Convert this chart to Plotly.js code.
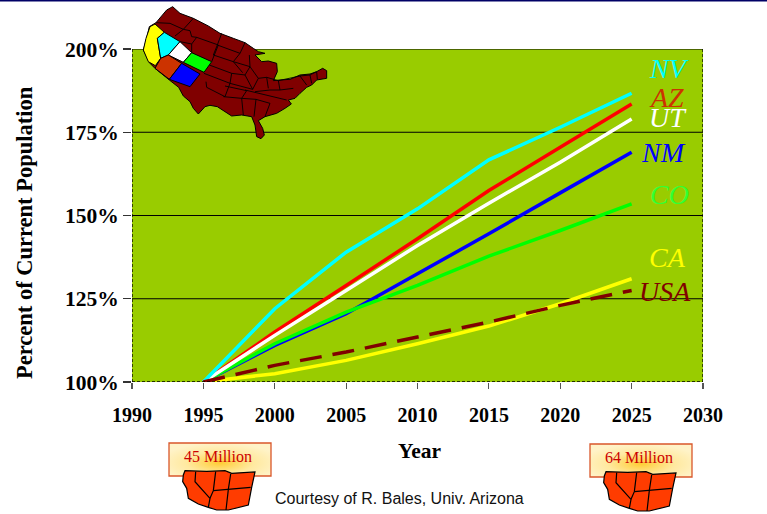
<!DOCTYPE html>
<html>
<head>
<meta charset="utf-8">
<script src="https://cdn.plot.ly/plotly-3.0.1.min.js"></script>
<style>html,body{margin:0;padding:0;background:#fff}#chart{width:767px;height:514px}</style>
</head>
<body>
<div id="chart"></div>
<script>
// Projected population growth by state, as a percentage of the 1995 population.
const years = [1995, 2000, 2005, 2010, 2015, 2020, 2025];
const nv  = [100, 122, 139, 152, 166.7, 176.5, 186.7];
const az  = [100, 115, 129, 143, 157.5, 170.5, 183.5];
const ut  = [100, 114, 127.5, 141, 153.7, 166, 179];
const nm  = [100, 111, 120.5, 132.5, 144.5, 156.8, 169];
const co  = [100, 111.5, 121, 129, 137.8, 145.5, 153.5];
const ca  = [100, 102.5, 106.5, 111.5, 116.8, 123.5, 131];
const usa = [100, 105, 109, 113.5, 118, 123, 127.5];

const xTicks = [1990, 1995, 2000, 2005, 2010, 2015, 2020, 2025, 2030];
const yTicks = [100, 125, 150, 175, 200];
const gridLevels = [125, 150, 175, 200];

const W = 767, H = 514;
const px = x => x / W;
const py = y => 1 - y / H;

// Page-pixel polygons for the locator map, in a 3x grid anchored at (130, 0).
const usOutline = [[128,20],[150,40],[190,55],[235,78],[270,100],[310,115],[345,128],[370,145],[385,155],[405,160],[375,165],[395,185],[415,183],[440,190],[442,215],[430,242],[450,240],[480,238],[510,225],[540,222],[560,215],[578,205],[590,212],[590,235],[560,240],[545,255],[530,262],[510,280],[495,295],[475,300],[484,312],[465,325],[440,340],[405,350],[385,362],[398,385],[403,405],[393,416],[380,410],[375,375],[365,350],[335,345],[305,348],[285,335],[262,320],[240,316],[225,320],[205,342],[190,325],[180,305],[160,288],[146,262],[118,240],[75,205],[58,188],[40,150],[50,115],[58,80],[78,68],[110,30]];
const caShape = [[60,80],[75,72],[103,97],[82,115],[92,175],[76,197],[55,185],[40,150],[48,115]];
const nvShape = [[103,97],[150,125],[115,165],[92,175],[82,115]];
const utShape = [[150,125],[185,158],[160,187],[115,165]];
const coShape = [[185,158],[245,185],[222,217],[160,187]];
const azShape = [[115,165],[155,190],[118,238],[75,205],[92,175]];
const nmShape = [[155,190],[210,222],[180,260],[118,238]];
const stateLines = [
  [[78,68],[120,70],[160,88]], [[135,108],[160,88],[190,55]], [[160,88],[180,92],[185,110],[200,112]],
  [[150,125],[185,132],[200,112]], [[200,112],[265,135],[245,185]], [[185,132],[185,158]],
  [[275,100],[262,135],[250,165]], [[345,128],[330,160],[310,185]], [[262,135],[330,160]],
  [[250,165],[310,185],[338,218]], [[238,195],[305,220],[300,250]], [[222,220],[300,250],[285,290],[230,262],[228,245]],
  [[310,185],[360,200],[345,225],[305,220]], [[345,225],[368,268],[300,250]], [[285,258],[350,272],[335,295],[280,290]],
  [[335,295],[340,345]], [[335,295],[378,298],[372,350]], [[378,298],[420,310],[405,350]], [[345,270],[470,300]],
  [[360,200],[358,165]], [[360,200],[385,235],[368,268]], [[385,235],[410,232],[415,265]], [[410,232],[445,242],[450,270]],
  [[375,275],[420,270],[450,270],[490,265]], [[445,242],[510,228],[530,255]], [[510,228],[540,225],[545,250]], [[540,225],[560,215],[562,238]]
];

// Small regional map under each population callout, in a 3x grid anchored at (160, 430).
const regionOutline = [[75,122],[140,124],[195,122],[215,130],[285,126],[275,172],[265,225],[205,240],[170,240],[145,232],[115,222],[85,205],[80,175],[68,155],[70,135]];
const regionLines = [[[107,125],[105,155],[150,205],[145,232]], [[167,125],[160,182],[150,205]], [[212,132],[205,178],[198,240]], [[160,182],[272,172]]];
const regionOffsets = [[0,0],[421,1]];

const bigMapPoint = p => [130 + p[0] / 3, p[1] / 3];

function pathOf(points, toPage, closed) {
  const body = points.map((p, i) => {
    const q = toPage(p);
    return (i ? 'L' : 'M') + px(q[0]).toFixed(5) + ',' + py(q[1]).toFixed(5);
  }).join(' ');
  return closed ? body + ' Z' : body;
}
const polygon = (points, toPage, fill, width) => ({
  type: 'path', xref: 'paper', yref: 'paper', layer: 'above', path: pathOf(points, toPage, true),
  fillcolor: fill, line: {color: '#000', width: width}
});
const polyline = (points, toPage, width) => ({
  type: 'path', xref: 'paper', yref: 'paper', layer: 'above', path: pathOf(points, toPage, false),
  line: {color: '#000', width: width}
});
// Text placed by page pixel, centred on that point.
const pageText = (x, y, text, font, extra) => Object.assign({
  xref: 'paper', yref: 'paper', x: px(x), y: py(y), xanchor: 'center', yanchor: 'middle',
  text: text, showarrow: false, font: font
}, extra || {});

const shapes = [];
gridLevels.forEach(v => shapes.push({type: 'line', xref: 'x', yref: 'y', x0: 1990, x1: 2030, y0: v, y1: v, layer: 'below', line: {color: '#000', width: 1.2}}));
[1990, 2030].forEach(v => shapes.push({type: 'line', xref: 'x', yref: 'y', x0: v, x1: v, y0: 100, y1: 200, layer: 'above', line: {color: '#000', width: 1.3, dash: '3px,2px'}}));
shapes.push({type: 'line', xref: 'x', yref: 'y', x0: 1990, x1: 2030, y0: 100, y1: 100, layer: 'above', line: {color: '#000', width: 1.3, dash: '3px,2px'}});
// Top rule of the page.
shapes.push({type: 'rect', xref: 'paper', yref: 'paper', x0: 0, x1: 1, y0: py(1.5), y1: 1, layer: 'above', fillcolor: '#000066', line: {width: 0}});

shapes.push(polygon(usOutline, bigMapPoint, '#800000', 1));
stateLines.forEach(l => shapes.push(polyline(l, bigMapPoint, 0.9)));
[[caShape, '#ffff00'], [nvShape, '#00ffff'], [utShape, '#ffffff'], [coShape, '#00ff00'], [azShape, '#cc3300'], [nmShape, '#0000ff']]
  .forEach(s => shapes.push(polygon(s[0], bigMapPoint, s[1], 1)));

// Callout boxes with a warm glow behind the text.
const glow = 'data:image/svg+xml;utf8,' + encodeURIComponent(
  '<svg xmlns="http://www.w3.org/2000/svg" width="102" height="33"><defs><radialGradient id="g" cx="50%" cy="60%" r="60%">' +
  '<stop offset="0" stop-color="#ffcc33"/><stop offset="0.55" stop-color="#ffe9a0"/><stop offset="1" stop-color="#fff3c8"/></radialGradient></defs>' +
  '<rect width="102" height="33" fill="url(#g)"/></svg>');
const images = [];
const callouts = ['45 Million', '64 Million'];
const annotations = [];
regionOffsets.forEach((off, i) => {
  const x0 = 169 + off[0], y0 = 443 + off[1];
  images.push({source: glow, xref: 'paper', yref: 'paper', x: px(x0), y: py(y0), sizex: 102 / W, sizey: 33 / H, sizing: 'stretch', xanchor: 'left', yanchor: 'top', layer: 'below'});
  shapes.push({type: 'rect', xref: 'paper', yref: 'paper', x0: px(x0), x1: px(x0 + 102), y0: py(y0), y1: py(y0 + 33), layer: 'above', line: {color: '#d9572b', width: 1.3}});
  const toPage = p => [160 + off[0] + p[0] / 3, 430 + off[1] + p[1] / 3];
  shapes.push(polygon(regionOutline, toPage, '#ff3c00', 1.2));
  regionLines.forEach(l => shapes.push(polyline(l, toPage, 1.2)));
  annotations.push(pageText(218 + off[0], 456 + off[1], callouts[i], {family: 'Liberation Serif', size: 16, color: '#cc0000'}));
});

const seriesLabels = [
  ['NV', 669, 69, '#00ffff'], ['AZ', 666, 97, '#cc3300'], ['UT', 668, 118, '#ffffff'], ['NM', 663, 152, '#0000ff'],
  ['CO', 669, 194, '#33ff33'], ['CA', 667, 257, '#ffff00'], ['USA', 665, 291, '#800000']
];
seriesLabels.forEach(l => annotations.push(pageText(l[1], l[2], '<i>' + l[0] + '</i>', {family: 'Liberation Serif', size: 28, color: l[3]})));
annotations.push(pageText(399, 498, 'Courtesy of R. Bales, Univ. Arizona', {family: 'Liberation Sans', size: 16, color: '#111'}));
annotations.push(pageText(419, 451, '<b>Year</b>', {family: 'Liberation Serif', size: 21.5, color: '#000'}));
annotations.push(pageText(25, 233, '<b>Percent of Current Population</b>', {family: 'Liberation Serif', size: 22.5, color: '#000'}, {textangle: -90}));

const line = (y, color, name, dash) => ({
  x: years, y: y, name: name, type: 'scatter', mode: 'lines',
  line: {color: color, width: 3.5, dash: dash || 'solid', simplify: false}
});
const traces = [
  line(nm, '#0000ff', 'NM'), line(co, '#00ff00', 'CO'), line(az, '#ff0000', 'AZ'), line(ut, '#ffffff', 'UT'),
  line(nv, '#00ffff', 'NV'), line(ca, '#ffff00', 'CA'), line(usa, '#800000', 'USA', '22px,11px')
];

Plotly.newPlot('chart', traces, {
  width: W, height: H, margin: {l: 0, r: 0, t: 0, b: 0},
  paper_bgcolor: '#fff', plot_bgcolor: '#99cc00', showlegend: false,
  xaxis: {
    domain: [px(132), px(703)], range: [1990, 2030], tickvals: xTicks, ticktext: xTicks.map(t => '<b>' + t + '</b>'),
    showgrid: false, zeroline: false, showline: false, ticks: 'outside', ticklen: 6, tickwidth: 1.2, tickcolor: '#555',
    tickfont: {family: 'Liberation Serif', size: 20, color: '#000'}, ticklabelstandoff: 9, fixedrange: true
  },
  yaxis: {
    domain: [py(382), py(49)], range: [100, 200], tickvals: yTicks, ticktext: yTicks.map(t => '<b>' + t + '%</b>'),
    showgrid: false, zeroline: false, showline: false, ticks: 'outside', ticklen: 8, tickwidth: 1.2, tickcolor: '#333',
    tickfont: {family: 'Liberation Serif', size: 21.5, color: '#000'}, ticklabelstandoff: 0, fixedrange: true
  },
  shapes: shapes, images: images, annotations: annotations
}, {displayModeBar: false, staticPlot: true});
</script>
</body>
</html>
